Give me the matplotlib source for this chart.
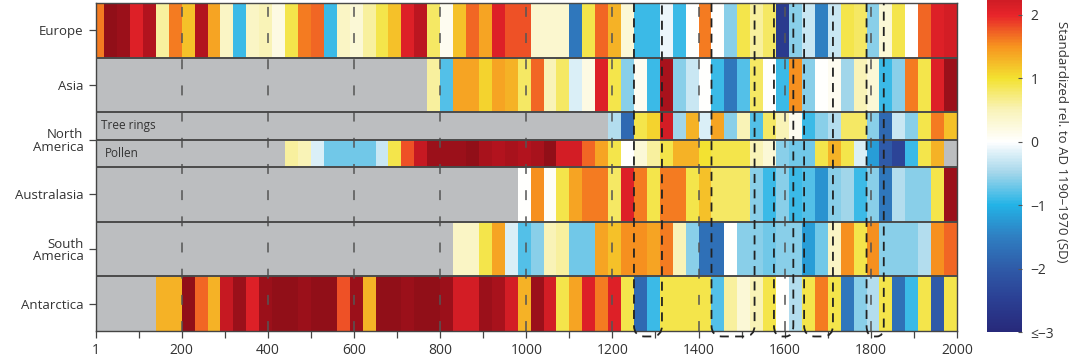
import numpy as np
import matplotlib
matplotlib.use("Agg")
import matplotlib.pyplot as plt
from matplotlib.colors import LinearSegmentedColormap, Normalize
from matplotlib.path import Path
from matplotlib.patches import PathPatch

plt.rcParams["font.family"] = ["Open Sans", "DejaVu Sans"]

nan = np.nan

# 30-year bins ending in AD 2000 (first one is clipped at AD 1)
bin_edges = np.arange(-10, 2001, 30)

europe = [1.6, 2.8, 2.7, 2.1, 2.5, 0.6, 1.6, 1.2, 2.5, 1.4,
          0.4, -0.9, 0.4, 0.5, 0.2, 0.9, 1.6, 1.7, -0.9, 0.4,
          0.3, 0.6, 0.9, 1.2, 2.1, 2.4, 0.8, 0.1, 1.2, 1.7,
          1.4, 2.1, 1.8, 1.8, 0.35, 0.35, 0.35, -1.6, 0.9, 1.7,
          1.3, 0.3, -0.9, -0.9, -0.1, -0.9, 0.0, 1.6, 0.0, -0.6,
          0.9, 0.6, 0.8, -2.6, -0.6, -0.3, -1.5, -0.3, 0.9, 0.8,
          -0.6, 0.3, 0.9, 0.0, 1.7, 2.1, 2.2]

asia = [nan] * 26 + [
          0.6, -0.8, 1.4, 1.4, 1.1, 1.4, 1.3, 0.8, 1.7, 0.5,
          0.8, -0.2, 0.2, 2.1, 0.9, -0.6, 0.1, -0.9, 2.6, -0.6,
          -0.3, 0.0, -0.9, -1.6, -0.8, 0.8, 0.0, -0.9, 1.5, -0.6,
          0.0, 0.1, -0.5, 0.5, 0.3, -0.9, -0.6, 1.6, 0.9, 2.1, 2.7]

tree_rings = [nan] * 40 + [
          -0.4, -1.8, 0.9, 1.1, 2.2, -0.5, 1.3, -0.2, 1.4, -0.6,
          0.5, -0.8, 0.8, 0.5, 0.1, -0.9, -0.6, -0.4, 0.8, 0.8,
          -0.6, -1.8, -0.3, -0.6, 0.9, 1.6, 1.2]

pollen = [nan] * 15 + [
          0.6, 0.5, -0.2, -0.7, -0.7, -0.7, -0.7, -0.3, 0.9, 1.8,
          2.3, 2.7, 2.7, 2.7, 2.8, 2.6, 2.5, 2.6, 2.5, 2.6,
          2.8, 2.2, 2.2, 1.7, 1.4, 0.9, 0.0, 0.3, 0.6, 0.9,
          1.3, 1.3, 1.0, 0.9, 0.9, 0.9, 0.5, 0.3, -0.6, -0.7,
          -0.7, 0.9, 1.3, 0.9, -0.2, -1.2, -2.0, -2.4, -0.9, 0.9,
          1.3, nan]

australasia = [nan] * 33 + [
          0.0, 1.5, 0.05, 0.9, 1.4, 1.6, 1.6, 0.8, 2.1, 1.6,
          0.9, 1.6, 1.6, 0.9, 1.2, 0.8, 0.8, 0.8, -0.6, -0.9,
          -0.6, -0.9, -0.8, -1.3, -0.6, -0.5, -0.9, -0.6, -1.6, -0.4,
          -0.6, -0.6, 0.9, 2.7]

south_america = [nan] * 28 + [
          0.4, 0.4, 0.9, 1.4, -0.2, -0.8, -0.6, 0.5, 0.6, -0.7,
          -0.7, 1.4, 1.2, 1.5, 1.5, 1.4, 1.6, 0.5, -0.6, -1.7,
          -1.7, 0.0, -0.6, -0.6, -0.7, -0.6, -0.6, -1.2, -0.7, 0.4,
          1.5, 0.9, 1.5, -0.6, -0.6, -0.6, -0.4, 1.5, 1.7]

antarctica = [nan] * 5 + [
          1.3, 1.3, 2.8, 1.7, 1.3, 2.3, 2.7, 2.1, 2.7, 2.8,
          2.8, 2.7, 2.8, 2.8, 1.8, 2.7, 1.3, 2.8, 2.8, 2.7,
          2.8, 2.8, 2.7, 2.2, 2.2, 2.7, 2.6, 2.2, 1.3, 2.7,
          2.2, 0.9, 1.4, 2.1, 1.6, 2.1, 0.9, -1.8, -0.9, 0.9,
          0.9, 0.9, 0.9, -0.8, 0.6, 0.3, 0.5, 0.9, 0.0, -0.4,
          0.9, 1.6, 0.9, -1.6, -0.6, -0.4, 0.9, -1.7, -0.9, 0.9,
          -2.0, 0.9]

# (series, bottom, top) in row units
rows = [
    (europe, 5.0, 6.0),
    (asia, 4.0, 5.0),
    (tree_rings, 3.5, 4.0),
    (pollen, 3.0, 3.5),
    (australasia, 2.0, 3.0),
    (south_america, 1.0, 2.0),
    (antarctica, 0.0, 1.0),
]
row_labels = ["Europe", "Asia", "North\nAmerica", "Australasia", "South\nAmerica", "Antarctica"]
row_label_pos = [5.5, 4.5, 3.5, 2.5, 1.5, 0.5]

# dashed boxes (start year, end year)
boxes = [(1250, 1315), (1430, 1530), (1575, 1620), (1645, 1712), (1790, 1830)]

cb_ticks = [2, 1, 0, -1, -2, -3]
cb_ticklabels = ["2", "1", "0", "\u22121", "\u22122", "\u2264\u22123"]

cmap = LinearSegmentedColormap.from_list("pages", [
    (0.0 / 12, "#27297a"), (1.0 / 12, "#2b3f93"), (2.0 / 12, "#2f5ba8"),
    (3.0 / 12, "#2f7fc2"), (4.0 / 12, "#23b3e6"), (5.0 / 12, "#a3d6ea"),
    (6.0 / 12, "#ffffff"), (7.0 / 12, "#f9f3b9"), (8.0 / 12, "#f3e231"),
    (9.0 / 12, "#f7941f"), (10.0 / 12, "#e8242a"), (11.0 / 12, "#b3131e"),
    (12.0 / 12, "#7d0c14")])
norm = Normalize(vmin=-3, vmax=3)

W, H = 1074, 358
fig = plt.figure(figsize=(W / 100, H / 100), dpi=100)
ax = fig.add_axes([96 / W, (H - 331) / H, (957 - 96) / W, (331 - 3) / H])
ax.set_facecolor("#bcbec0")

mesh = None
for values, y0, y1 in rows:
    data = np.ma.masked_invalid(np.array(values, dtype=float))[None, :]
    mesh = ax.pcolormesh(bin_edges, [y0, y1], data, cmap=cmap, norm=norm,
                         shading="flat", zorder=1)

for yy in [1, 2, 3, 3.5, 4, 5, 6]:
    ax.axhline(yy, color="#4a4a4a", lw=1.4, zorder=3)

# gray century guides
for xx in range(200, 2000, 200):
    ax.axvline(xx, color="#555555", lw=1.3, ls=(0, (5.5, 9)), zorder=2, alpha=0.85)

# dashed boxes with rounded bottoms below the axis
yb, ry = -0.1, 0.2
for x0, x1 in boxes:
    rx = min(24, (x1 - x0) / 2.5)
    verts = [(x0, 6.0), (x0, yb + ry), (x0, yb), (x0 + rx, yb),
             (x1 - rx, yb), (x1, yb), (x1, yb + ry), (x1, 6.0)]
    codes = [Path.MOVETO, Path.LINETO, Path.CURVE3, Path.CURVE3,
             Path.LINETO, Path.CURVE3, Path.CURVE3, Path.LINETO]
    ax.add_patch(PathPatch(Path(verts, codes), fill=False, edgecolor="#222222",
                           lw=1.3, ls=(0, (5, 3.5)), clip_on=False, zorder=4))

ax.text(13, 3.75, "Tree rings", ha="left", va="center", fontsize=8.5, color="#333333", zorder=5)
ax.text(22, 3.25, "Pollen", ha="left", va="center", fontsize=8.5, color="#333333", zorder=5)

ax.set_xlim(1, 2000)
ax.set_ylim(0, 6)
ax.set_xticks([1] + list(range(200, 2001, 200)))
ax.set_xticklabels(["1"] + [str(v) for v in range(200, 2001, 200)])
ax.set_xticks(list(range(100, 2000, 200)), minor=True)
ax.set_yticks(row_label_pos)
ax.set_yticklabels(row_labels, linespacing=1.0)
ax.tick_params(axis="x", which="both", direction="out", length=5, width=0.9,
               color="#444444", labelsize=10, labelcolor="#333333", pad=4)
ax.tick_params(axis="y", direction="out", length=5, width=0.9, color="#444444",
               labelsize=9.5, labelcolor="#333333", pad=4)
for side in ["left", "bottom", "right", "top"]:
    ax.spines[side].set_color("#444444")
    ax.spines[side].set_linewidth(1.0)

# colour bar, its upper end cut by the picture edge like the reference
cax = fig.add_axes([987 / W, (H - 332) / H, 35 / W, 332 / H])
cb = fig.colorbar(mesh, cax=cax)
cb.outline.set_visible(False)
cax.set_ylim(-3, 2.23)
cb.set_ticks(cb_ticks)
cb.set_ticklabels(cb_ticklabels)
cax.tick_params(direction="in", length=3, width=0.8, color="#555555",
                labelsize=10, labelcolor="#333333", pad=6)
fig.text(1062 / W, 1 - 142 / H, "Standardized rel. to AD 1190\u20131970 (SD)",
         rotation=270, ha="center", va="center", fontsize=9.5, color="#333333")

fig.savefig("out.png", dpi=100)
